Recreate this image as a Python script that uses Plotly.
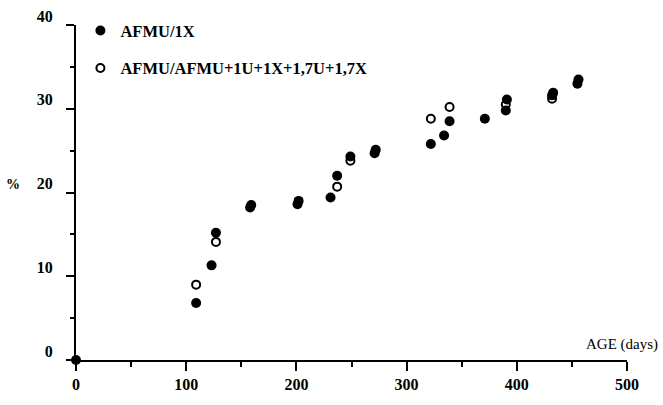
import plotly.graph_objects as go

# Data
filled_name = "AFMU/1X"
filled_x = [0, 109, 123, 127, 158, 159, 201, 202, 231, 237, 249, 271, 272, 322, 334, 339, 371, 390, 391, 432, 433, 455, 456]
filled_y = [0, 6.8, 11.3, 15.2, 18.2, 18.5, 18.6, 19.0, 19.4, 22.0, 24.3, 24.7, 25.1, 25.8, 26.8, 28.5, 28.8, 29.8, 31.1, 31.6, 31.9, 33.0, 33.5]

open_name = "AFMU/AFMU+1U+1X+1,7U+1,7X"
open_x = [109, 127, 237, 249, 322, 339, 390, 432]
open_y = [9.0, 14.1, 20.7, 23.8, 28.8, 30.2, 30.5, 31.2]

x_ticks = [0, 100, 200, 300, 400, 500]
x_tick_labels = ["0", "100", "200", "300", "400", "500"]
y_ticks = [0, 10, 20, 30, 40]
y_tick_labels = ["0", "10", "20", "30", "40"]

x_title = "AGE (days)"
y_title = "%"

SERIF = "Liberation Serif"

fig = go.Figure()
fig.add_trace(go.Scatter(
    x=open_x, y=open_y, mode="markers", name=open_name, legendgroup="b", legendrank=2,
    marker=dict(symbol="circle", size=8, color="white", line=dict(color="black", width=2)),
    cliponaxis=False,
))
fig.add_trace(go.Scatter(
    x=filled_x, y=filled_y, mode="markers", name=filled_name, legendgroup="a", legendrank=1,
    marker=dict(symbol="circle", size=10, color="black", line=dict(width=0)),
    cliponaxis=False,
))

fig.update_layout(
    width=663, height=405,
    margin=dict(l=76, r=36, t=25, b=45, autoexpand=False),
    plot_bgcolor="white", paper_bgcolor="white",
    font=dict(family=SERIF, color="black", size=15),
    showlegend=True,
    legend=dict(
        x=0.008, y=1.035, xanchor="left", yanchor="top",
        font=dict(family=SERIF, size=16.5, color="black", weight="bold"),
        tracegroupgap=13, traceorder="grouped", itemwidth=30,
        bgcolor="rgba(0,0,0,0)",
    ),
)

fig.update_xaxes(
    range=[0, 500], tickvals=x_ticks, ticktext=x_tick_labels,
    showline=True, linecolor="black", linewidth=2,
    ticks="outside", ticklen=9, tickwidth=2, tickcolor="black",
    minor=dict(dtick=50, ticks="outside", ticklen=5, tickwidth=2, tickcolor="black"),
    showgrid=False, zeroline=False, automargin=False,
    tickfont=dict(family=SERIF, size=16, weight="bold"),
    ticklabelstandoff=0,
)
fig.update_yaxes(
    range=[0, 40], tickvals=y_ticks, ticktext=y_tick_labels,
    showline=True, linecolor="black", linewidth=2,
    ticks="outside", ticklen=8, tickwidth=2, tickcolor="black",
    minor=dict(dtick=5, ticks="outside", ticklen=4, tickwidth=2, tickcolor="black"),
    showgrid=False, zeroline=False, automargin=False,
    tickfont=dict(family=SERIF, size=16, weight="bold"),
    ticklabelshift=-9, ticklabelstandoff=10,
)

fig.add_annotation(
    text=x_title, xref="paper", yref="paper", x=1.06, y=0.045,
    xanchor="right", yanchor="middle", showarrow=False,
    font=dict(family=SERIF, size=15, color="black"),
)
fig.add_annotation(
    text=y_title, xref="paper", yref="y", x=-0.115, y=21,
    xanchor="center", yanchor="middle", showarrow=False,
    font=dict(family=SERIF, size=14, color="black", weight="bold"),
)

fig.write_html(
    "out.html",
    config={"displayModeBar": False},
    post_script="document.body.style.margin='0';document.body.style.overflow='hidden';",
)
